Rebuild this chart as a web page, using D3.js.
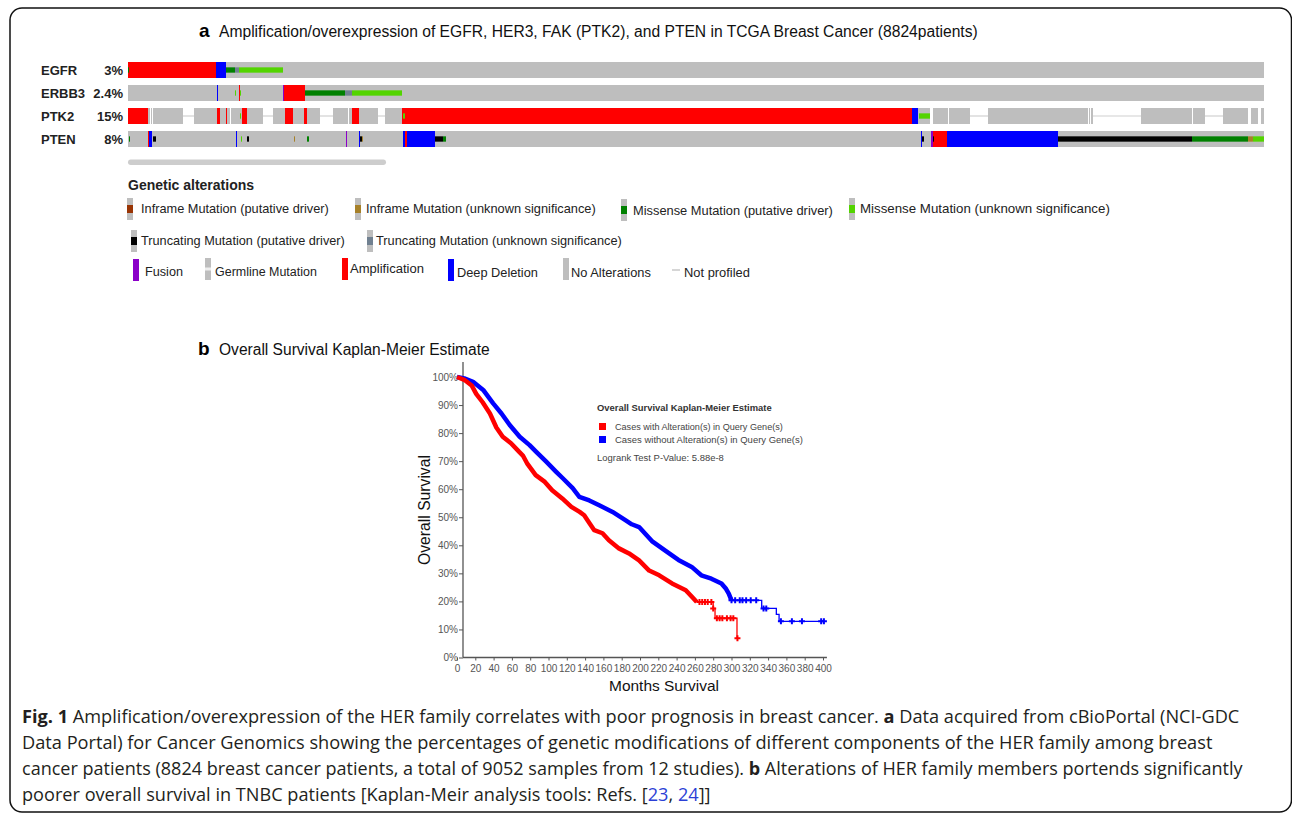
<!DOCTYPE html>
<html>
<head>
<meta charset="utf-8">
<script src="https://cdn.jsdelivr.net/npm/d3@7"></script>
<style>
  body { margin: 0; background: #fff; }
  svg { display: block; }
  text { font-family: "Liberation Sans", Arial, sans-serif; }
</style>
</head>
<body>
<svg width="1292" height="814"></svg>
<script>
// ---------------- data ----------------
// panel a: oncoprint, one column per displayed sample
var genes = ["EGFR", "ERBB3", "PTK2", "PTEN"];
var genePct = ["3%", "2.4%", "15%", "8%"];
var nSamples = 1136;

// [first sample, last sample, alteration type]
var egfrAlt = [[0, 88, "amp"], [0, 1, "missDrv"], [88, 98, "del"], [98, 107, "missDrv"],
               [107, 111, "truncVus"], [111, 155, "missVus"]];
var erbb3Alt = [[89, 90, "del"], [107, 108, "missVus"], [111, 112, "amp"], [112, 113, "missVus"],
                [155, 156, "fusion"], [156, 177, "amp"], [177, 217, "missDrv"],
                [217, 224, "truncVus"], [224, 274, "missVus"]];
var ptk2Alt = [[0, 20, "amp"], [89, 92, "amp"], [98, 99, "amp"], [112, 113, "missVus"],
               [114, 119, "amp"], [157, 165, "amp"], [176, 179, "amp"], [224, 231, "amp"],
               [274, 784, "amp"], [275, 277, "missVus"], [784, 790, "del"], [791, 802, "missVus"]];
var ptenAlt = [[1, 2, "missDrv"], [20, 21, "amp"], [21, 24, "del"], [25, 28, "truncDrv"],
               [108, 109, "del"], [113, 114, "missVus"], [119, 121, "truncDrv"], [166, 167, "inframeVus"],
               [179, 181, "missDrv"], [218, 219, "fusion"], [231, 232, "del"], [232, 234, "truncDrv"],
               [234, 235, "inframeVus"], [275, 277, "del"], [277, 279, "amp"], [279, 307, "del"],
               [307, 315, "truncDrv"], [315, 318, "missDrv"], [793, 794, "del"], [794, 796, "truncDrv"],
               [803, 805, "fusion"], [805, 819, "amp"], [805, 806, "truncDrv"], [819, 930, "del"],
               [930, 1064, "truncDrv"], [1064, 1120, "missDrv"], [1120, 1125, "inframeVus"],
               [1125, 1136, "missVus"]];
// samples where PTK2 was not profiled
var ptk2NotProfiled = [[22, 23], [24, 25], [55, 66], [102, 103], [135, 145], [192, 205], [220, 221],
                       [250, 257], [802, 805], [820, 821], [842, 860], [960, 961], [962, 963],
                       [965, 1013], [1064, 1065], [1077, 1095], [1120, 1123], [1130, 1133]];

var legendLabels = ["Inframe Mutation (putative driver)", "Inframe Mutation (unknown significance)",
  "Missense Mutation (putative driver)", "Missense Mutation (unknown significance)",
  "Truncating Mutation (putative driver)", "Truncating Mutation (unknown significance)",
  "Fusion", "Germline Mutation", "Amplification", "Deep Deletion", "No Alterations", "Not profiled"];
var legendTypes = ["inframeDrv", "inframeVus", "missDrv", "missVus", "truncDrv", "truncVus",
  "fusion", "germline", "amp", "del", "none", "notProfiled"];

// panel b: Kaplan-Meier, [months, survival %]
var altCurve = [[0, 100], [8, 99], [16, 97], [21, 94], [28, 91], [36, 87], [43, 82], [50, 78.7],
  [59, 76.4], [68, 73.3], [72, 72], [77, 69], [86, 65], [96, 62.6], [104, 59.6], [115, 56.7],
  [125, 53.7], [134, 51.9], [139, 50.7], [145, 47.8], [150, 45.4], [159, 44.3], [166, 41.8],
  [177, 38.9], [188, 37.1], [199, 34.6], [210, 31], [221, 29.3], [235, 26.4], [250, 24],
  [258, 21.2], [262, 19.8]];
var altTail = [[262, 19.8], [280, 17.5], [282, 14], [306, 6.9], [306.5, 6.9]];
var altCensor = [265, 268, 271, 274, 278, 280, 284, 287, 290, 295, 299, 302, 306.5];

var unaltCurve = [[0, 100], [8, 99.5], [17.5, 98.3], [28.6, 95.4], [39.5, 90.6], [48.6, 87],
  [57.6, 82.9], [68.5, 78.7], [79.3, 75.7], [86.6, 73.3], [97.5, 69.8], [108.4, 66.2],
  [115.6, 63.9], [126.4, 60.4], [133.7, 57.3], [144.6, 56], [155.4, 54.3], [170, 51.9],
  [184.4, 48.9], [191, 47.5], [199, 46.5], [213, 41.5], [228, 38], [242, 34.8], [256.5, 32.3],
  [267, 29.3], [278, 28.1], [289, 26.4], [294, 24.5], [297, 22.8], [300, 20.4]];
var unaltTail = [[300, 20.4], [333, 17.5], [349, 15.4], [352, 12.9], [401, 12.9]];
var unaltCensor = [300, 304, 309, 312, 316, 321, 327, 335, 338, 354, 366, 377, 398, 401];

var monthTicks = d3.range(0, 401, 20);
var survTicks = d3.range(0, 1.01, 0.1);

// ---------------- helpers ----------------
var svg = d3.select("svg");

function fit(sel, w) {
  var len = sel.node().getComputedTextLength();
  var fs = parseFloat(sel.style("font-size"));
  sel.style("font-size", (fs * w / len) + "px");
  return sel;
}

var colors = {
  amp: "#ff0000", del: "#0000ff", fusion: "#8b00c9",
  missDrv: "#008000", missVus: "#53d400",
  truncDrv: "#000000", truncVus: "#708090",
  inframeDrv: "#993404", inframeVus: "#a68028"
};
var fullHeight = {amp: true, del: true, fusion: true};
var grey = "#bebebe";

// frame
svg.append("rect")
  .attr("x", 10).attr("y", 8).attr("width", 1281.5).attr("height", 804)
  .attr("rx", 12).attr("fill", "none").attr("stroke", "#111").attr("stroke-width", 1.5);

// ---------------- panel a ----------------
svg.append("text").attr("x", 199).attr("y", 37)
  .style("font-size", "19px").style("font-weight", "bold").text("a");
fit(svg.append("text").attr("x", 219).attr("y", 37).style("font-size", "15px").attr("fill", "#111")
  .text("Amplification/overexpression of EGFR, HER3, FAK (PTK2), and PTEN in TCGA Breast Cancer (8824patients)"), 759);

var sx = d3.scaleLinear().domain([0, nSamples]).range([128, 1264]);
var row = d3.scaleBand().domain(genes).range([62, 147]).paddingInner(7 / 23).paddingOuter(0);
var bw = row.bandwidth();

var alterations = [egfrAlt, erbb3Alt, ptk2Alt, ptenAlt];
var notProfiled = [[], [], ptk2NotProfiled, []];

var onco = svg.append("g");
genes.forEach(function(gene, i) {
  var y0 = row(gene);
  var g = onco.append("g");

  g.append("text").attr("x", 41).attr("y", y0 + bw / 2 + 4.5)
    .style("font-size", "13px").style("font-weight", "bold").attr("fill", "#222").text(gene);
  g.append("text").attr("x", 123).attr("y", y0 + bw / 2 + 4.5).attr("text-anchor", "end")
    .style("font-size", "13px").style("font-weight", "bold").attr("fill", "#222").text(genePct[i]);

  g.append("rect").attr("x", sx(0)).attr("y", y0)
    .attr("width", sx(nSamples) - sx(0)).attr("height", bw).attr("fill", grey);

  g.selectAll(".np").data(notProfiled[i]).enter().append("rect")
    .attr("x", function(d) { return sx(d[0]); }).attr("y", y0 - 0.5)
    .attr("width", function(d) { return sx(d[1]) - sx(d[0]); }).attr("height", bw + 1)
    .attr("fill", "#fff");
  g.selectAll(".npl").data(notProfiled[i].filter(function(d) { return d[1] - d[0] > 3; }))
    .enter().append("line")
    .attr("x1", function(d) { return sx(d[0]); }).attr("x2", function(d) { return sx(d[1]); })
    .attr("y1", y0 + bw / 2).attr("y2", y0 + bw / 2)
    .attr("stroke", "#d0d0d0").attr("stroke-width", 1.2);

  var alts = alterations[i];
  var full = alts.filter(function(d) { return fullHeight[d[2]]; });
  var muts = alts.filter(function(d) { return !fullHeight[d[2]]; });

  g.selectAll(".full").data(full).enter().append("rect")
    .attr("x", function(d) { return sx(d[0]); }).attr("y", y0)
    .attr("width", function(d) { return Math.max(1, sx(d[1]) - sx(d[0])); }).attr("height", bw)
    .attr("fill", function(d) { return colors[d[2]]; });
  g.selectAll(".mut").data(muts).enter().append("rect")
    .attr("x", function(d) { return sx(d[0]); }).attr("y", y0 + bw / 3)
    .attr("width", function(d) { return Math.max(1, sx(d[1]) - sx(d[0])); }).attr("height", bw / 3)
    .attr("fill", function(d) { return colors[d[2]]; });
});

// scrollbar
svg.append("rect").attr("x", 128).attr("y", 159.5).attr("width", 258).attr("height", 5.5)
  .attr("rx", 2.75).attr("fill", "#cdcdcd");

// legend
svg.append("text").attr("x", 128).attr("y", 190)
  .style("font-size", "14px").style("font-weight", "bold").attr("fill", "#222").text("Genetic alterations");

var iconPos = [[127, 198], [355, 198], [621, 199], [849, 198], [131, 230], [367, 230],
               [133, 259], [205, 258], [342, 258], [448, 259], [563, 258], [672, 258]];
var textPos = [[141, 213], [366, 213], [633, 215], [860, 213], [141, 245], [376, 245],
               [145, 276], [215, 276], [350, 273], [457, 277], [571, 277], [684, 277]];
var textW = [188, 230, 200, 250, 204, 246, 38, 102, 74, 81, 80, 66];

legendTypes.forEach(function(t, i) {
  var x = iconPos[i][0], y = iconPos[i][1], h = 22;
  if (t === "notProfiled") {
    svg.append("line").attr("x1", x).attr("x2", x + 8).attr("y1", y + h / 2 + 1).attr("y2", y + h / 2 + 1)
      .attr("stroke", "#c8c8c8").attr("stroke-width", 1.5);
  } else if (fullHeight[t]) {
    svg.append("rect").attr("x", x).attr("y", y).attr("width", 6).attr("height", h)
      .attr("fill", colors[t]);
  } else {
    svg.append("rect").attr("x", x).attr("y", y).attr("width", 6).attr("height", h).attr("fill", grey);
    if (t === "germline") {
      svg.append("rect").attr("x", x).attr("y", y + h / 2 - 1.5).attr("width", 6).attr("height", 3)
        .attr("fill", "#eee");
    } else if (colors[t]) {
      svg.append("rect").attr("x", x).attr("y", y + h / 2 - 4).attr("width", 6).attr("height", 8)
        .attr("fill", colors[t]);
    }
  }
  fit(svg.append("text").attr("x", textPos[i][0]).attr("y", textPos[i][1])
    .style("font-size", "13px").attr("fill", "#222").text(legendLabels[i]), textW[i]);
});

// ---------------- panel b ----------------
svg.append("text").attr("x", 198).attr("y", 355)
  .style("font-size", "19px").style("font-weight", "bold").text("b");
fit(svg.append("text").attr("x", 219).attr("y", 355).style("font-size", "15px").attr("fill", "#111")
  .text("Overall Survival Kaplan-Meier Estimate"), 271);

var x = d3.scaleLinear().domain([0, 400]).range([457, 823]);
var y = d3.scaleLinear().domain([0, 1]).range([657.5, 377]);
var axisX = 463;

var km = svg.append("g");

// y axis
var yAxis = km.append("g").attr("transform", "translate(" + axisX + ",0)")
  .call(d3.axisLeft(y).tickValues(survTicks).tickSize(4).tickPadding(1)
    .tickFormat(function(d) { return Math.round(d * 100) + "%"; }));
yAxis.select(".domain").attr("d", "M0,362V" + y(0));
// x axis
var xAxis = km.append("g").attr("transform", "translate(0," + y(0) + ")")
  .call(d3.axisBottom(x).tickValues(monthTicks).tickSize(3).tickPadding(4.5));
xAxis.select(".domain").attr("d", "M" + axisX + ",0H" + (x(401) + 3));
km.selectAll(".tick text").style("font-size", "10px").attr("fill", "#555")
  .style("font-family", "'Liberation Sans', Arial, sans-serif");
km.selectAll(".tick line").attr("stroke", "#555");
km.selectAll(".domain").attr("stroke", "#555").attr("stroke-width", 1.3);

fit(km.append("text").attr("transform", "translate(430,510) rotate(-90)").attr("text-anchor", "middle")
  .style("font-size", "16px").attr("fill", "#111").text("Overall Survival"), 110);
fit(km.append("text").attr("x", 664).attr("y", 691).attr("text-anchor", "middle")
  .style("font-size", "16px").attr("fill", "#111").text("Months Survival"), 110);

var dense = d3.line().x(function(d) { return x(d[0]); }).y(function(d) { return y(d[1] / 100); });
var step = d3.line().curve(d3.curveStepAfter)
  .x(function(d) { return x(d[0]); }).y(function(d) { return y(d[1] / 100); });

function stepValue(tail, m) {
  var v = tail[0][1];
  tail.forEach(function(p) { if (p[0] <= m) v = p[1]; });
  return v;
}

function drawCurve(curve, tail, censor, color) {
  km.append("path").datum(tail).attr("d", step).attr("fill", "none")
    .attr("stroke", color).attr("stroke-width", 1.3);
  km.append("path").datum(curve).attr("d", dense).attr("fill", "none")
    .attr("stroke", color).attr("stroke-width", 4.5).attr("stroke-linejoin", "round");
  km.selectAll(null).data(censor).enter().append("path")
    .attr("transform", function(m) {
      return "translate(" + x(m) + "," + y(stepValue(tail, m) / 100) + ")";
    })
    .attr("d", "M-3,0H3M0,-3V3").attr("stroke", color).attr("stroke-width", 2);
}
drawCurve(unaltCurve, unaltTail, unaltCensor, "#0000ff");
drawCurve(altCurve, altTail, altCensor, "#ff0000");

// KM legend
fit(km.append("text").attr("x", 597).attr("y", 411).style("font-size", "10px")
  .style("font-weight", "bold").attr("fill", "#333").text("Overall Survival Kaplan-Meier Estimate"), 175);
km.append("rect").attr("x", 599).attr("y", 423).attr("width", 7).attr("height", 7).attr("fill", "#ff0000");
km.append("rect").attr("x", 599).attr("y", 436).attr("width", 7).attr("height", 7).attr("fill", "#0000ff");
fit(km.append("text").attr("x", 615).attr("y", 430).style("font-size", "10px")
  .attr("fill", "#444").text("Cases with Alteration(s) in Query Gene(s)"), 168);
fit(km.append("text").attr("x", 615).attr("y", 443).style("font-size", "10px")
  .attr("fill", "#444").text("Cases without Alteration(s) in Query Gene(s)"), 188);
fit(km.append("text").attr("x", 597).attr("y", 461).style("font-size", "10px")
  .attr("fill", "#444").text("Logrank Test P-Value: 5.88e-8"), 127);

// ---------------- caption ----------------
var captionLines = [
  [["Fig. 1", "b"], [" Amplification/overexpression of the HER family correlates with poor prognosis in breast cancer. ", ""], ["a", "b"], [" Data acquired from cBioPortal (NCI-GDC", ""]],
  [["Data Portal) for Cancer Genomics showing the percentages of genetic modifications of different components of the HER family among breast", ""]],
  [["cancer patients (8824 breast cancer patients, a total of 9052 samples from 12 studies). ", ""], ["b", "b"], [" Alterations of HER family members portends significantly", ""]],
  [["poorer overall survival in TNBC patients [Kaplan-Meir analysis tools: Refs. [", ""], ["23", "l"], [", ", ""], ["24", "l"], ["]]", ""]]
];
var captionW = [1218, 1191, 1221, 689];

captionLines.forEach(function(parts, i) {
  var g = svg.append("g");
  var t = g.append("text").attr("x", 0).attr("y", 0)
    .style("font-family", "'Open Sans', 'Noto Sans', sans-serif")
    .style("font-size", "18.5px").attr("fill", "#231f20")
    .style("white-space", "pre");
  parts.forEach(function(p) {
    var s = t.append("tspan").text(p[0]);
    if (p[1] === "b") s.style("font-weight", "bold");
    if (p[1] === "l") s.attr("fill", "#2b3fd6");
  });
  var len = t.node().getComputedTextLength();
  g.attr("transform", "translate(22," + (723 + i * 26) + ") scale(" + (captionW[i] / len) + ",1)");
});
</script>
</body>
</html>
